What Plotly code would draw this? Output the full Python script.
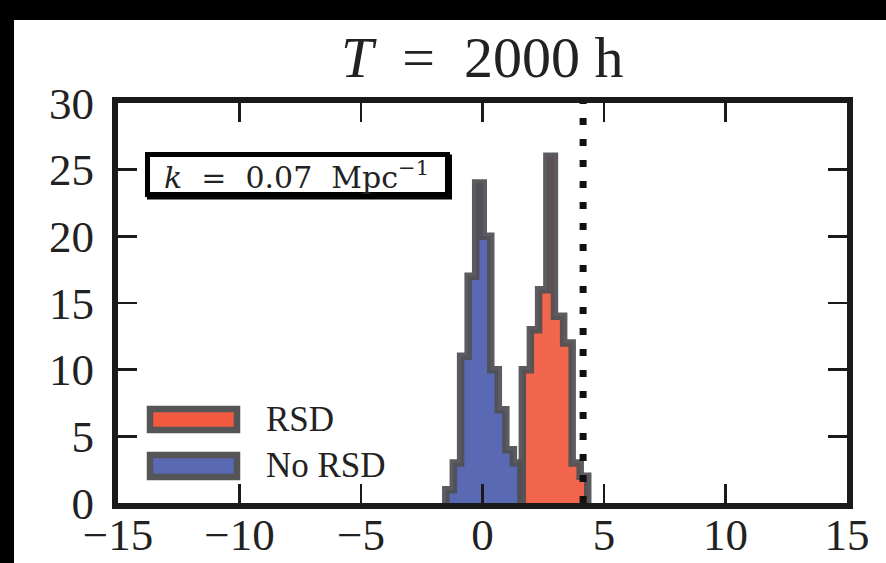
import plotly.graph_objects as go

# ---------------- data ----------------
blue_edges = [-1.51, -1.20, -0.90, -0.59, -0.28, 0.03, 0.34, 0.65, 0.96, 1.27, 1.58]
blue_counts = [1, 3, 11, 17, 24, 20, 10, 7, 4, 3]
red_edges = [1.64, 1.97, 2.31, 2.65, 2.96, 3.34, 3.69, 4.02, 4.33]
red_counts = [10, 13, 16, 26, 14, 12, 3, 2]
threshold_x = 4.14
x_ticks = [-15, -10, -5, 0, 5, 10, 15]
y_ticks = [0, 5, 10, 15, 20, 25, 30]
series_labels = ["RSD", "No RSD"]
title_text = "<i>T</i>\u00a0\u00a0=\u00a0\u00a02000\u00a0h"
box_text = "<i>k</i>\u00a0\u00a0=\u00a0\u00a00.07\u00a0\u00a0Mpc<sup>\u22121</sup>"

# ---------------- geometry ----------------
W, H = 886, 563
L, R, T, B = 118, 847, 103, 503


def px(X):
    return (X - L) / (R - L)


def py(Y):
    return (B - Y) / (B - T)


def step_xy(edges, counts):
    xs = [edges[0]] + list(edges)
    ys = [0] + list(counts) + [0]
    return xs, ys


GRAY = "rgba(80,80,84,0.93)"
BLUE = "#5a69b3"
RED = "#f15a3f"
SERIF = "Liberation Serif"

fig = go.Figure()

bx, by = step_xy(blue_edges, blue_counts)
fig.add_trace(go.Scatter(x=bx, y=by, mode="lines", name=series_labels[1],
                         line=dict(shape="hv", color=GRAY, width=7.5),
                         fill="tozeroy", fillcolor=BLUE, showlegend=False))
rx, ry = step_xy(red_edges, red_counts)
fig.add_trace(go.Scatter(x=rx, y=ry, mode="lines", name=series_labels[0],
                         line=dict(shape="hv", color=GRAY, width=7.5),
                         fill="tozeroy", fillcolor="rgba(241,90,63,0.93)", showlegend=False))
fig.add_trace(go.Scatter(x=[threshold_x, threshold_x], y=[y_ticks[0], y_ticks[-1]], mode="lines",
                         line=dict(color="#111", width=7, dash="7px,14px"), showlegend=False))

axis_common = dict(showline=True, linewidth=6, linecolor="#1a1a1a", mirror="ticks",
                   ticks="inside", ticklen=19, tickwidth=2.5, tickcolor="#1a1a1a",
                   showgrid=False, zeroline=False, automargin=False,
                   tickfont=dict(family=SERIF, size=45, color="#222"))

fig.update_layout(
    template="none",
    width=W, height=H,
    margin=dict(l=L, r=W - R, t=T, b=H - B, pad=0),
    paper_bgcolor="white", plot_bgcolor="white",
    showlegend=False,
    xaxis=dict(range=[x_ticks[0], x_ticks[-1]], tickvals=x_ticks, ticklabelstandoff=-13, **axis_common),
    yaxis=dict(range=[y_ticks[0], y_ticks[-1]], tickvals=y_ticks, ticklabelstandoff=9, **axis_common),
)

shapes = []
# black strips at the top and left of the picture
shapes.append(dict(type="rect", xref="paper", yref="paper", x0=px(-2), x1=px(W + 2), y0=py(20), y1=py(-2),
                   fillcolor="black", line=dict(width=0), layer="above"))
shapes.append(dict(type="rect", xref="paper", yref="paper", x0=px(-2), x1=px(14), y0=py(H + 2), y1=py(-2),
                   fillcolor="black", line=dict(width=0), layer="above"))
# k box (with slight shadow)
shapes.append(dict(type="rect", xref="paper", yref="paper", x0=px(149.5), x1=px(449.5), y0=py(197), y1=py(157),
                   fillcolor="black", line=dict(color="black", width=5), layer="above"))
shapes.append(dict(type="rect", xref="paper", yref="paper", x0=px(147.5), x1=px(447.5), y0=py(194.5), y1=py(154.5),
                   fillcolor="white", line=dict(color="black", width=5), layer="above"))
# legend patches
for (y0, y1, col) in [(409, 430, RED), (455, 477, BLUE)]:
    shapes.append(dict(type="rect", xref="paper", yref="paper", x0=px(150), x1=px(237), y0=py(y1), y1=py(y0),
                       fillcolor=col, line=dict(color="#555558", width=6.5), layer="above"))
fig.update_layout(shapes=shapes)

annotations = [
    dict(text=title_text, x=px(482), y=py(57), xref="paper", yref="paper", showarrow=False,
         xanchor="center", yanchor="middle", font=dict(family=SERIF, size=58, color="#222")),
    dict(text=box_text, x=px(296), y=py(175), xref="paper", yref="paper", showarrow=False,
         xanchor="center", yanchor="middle", font=dict(family="DejaVu Serif", size=30, color="#222")),
    dict(text=series_labels[0], x=px(264), y=py(419), xref="paper", yref="paper", showarrow=False,
         xanchor="left", yanchor="middle", font=dict(family=SERIF, size=35, color="#222")),
    dict(text=series_labels[1], x=px(264), y=py(465), xref="paper", yref="paper", showarrow=False,
         xanchor="left", yanchor="middle", font=dict(family=SERIF, size=35, color="#222")),
]
fig.update_layout(annotations=annotations)

fig.write_html("out.html", config={"displayModeBar": False, "staticPlot": True},
               post_script="document.body.style.margin='0px';document.body.style.overflow='hidden';")
